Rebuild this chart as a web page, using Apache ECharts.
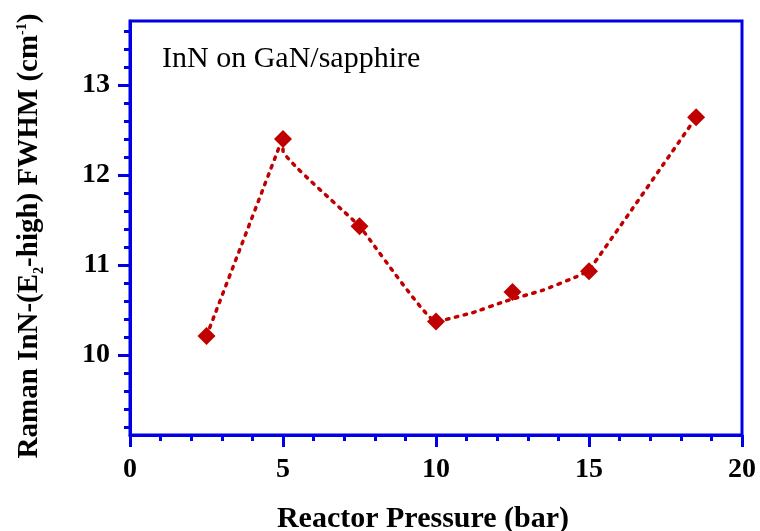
<!DOCTYPE html>
<html>
<head>
<meta charset="utf-8">
<script src="https://cdn.jsdelivr.net/npm/echarts@6/dist/echarts.min.js"></script>
<style>
  html, body { margin: 0; padding: 0; background: #fff; }
  #main { width: 760px; height: 531px; }
</style>
</head>
<body>
<div id="main"></div>
<script>
// measured points
var pressure = [2.5, 5, 7.5, 10, 12.5, 15, 18.5];
var fwhm = [10.21, 12.40, 11.43, 10.37, 10.70, 10.93, 12.64];

// dotted guide curve (it does not hit every point)
var curveX = [2.5, 5, 5, 7.5, 10, 11.2, 12.3, 13.5, 14.6, 15, 18.5];
var curveY = [10.21, 12.42, 12.27, 11.43, 10.37, 10.47, 10.60, 10.72, 10.87, 10.94, 12.64];

var yMajor = [10, 11, 12, 13];
var yMinor = [9.2, 9.4, 9.6, 9.8, 10.2, 10.4, 10.6, 10.8, 11.2, 11.4, 11.6, 11.8,
              12.2, 12.4, 12.6, 12.8, 13.2, 13.4, 13.6];

var blue = '#0000e6';
var red = '#c00000';
var serif = '"Liberation Serif", "Times New Roman", serif';

var chartDom = document.getElementById('main');
var myChart = echarts.init(chartDom);
var option;

option = {
  animation: false,
  title: {
    text: 'InN on GaN/sapphire',
    left: 157,
    top: 39,
    textStyle: { fontFamily: serif, fontWeight: 'normal', fontSize: 30, color: '#000' }
  },
  grid: {
    left: 130, right: 18, top: 21, bottom: 96,
    outerBoundsMode: 'none',
    containLabel: false,
    show: true, borderColor: blue, borderWidth: 3
  },
  xAxis: {
    type: 'value', min: 0, max: 20, interval: 5,
    name: 'Reactor Pressure (bar)',
    nameLocation: 'middle', nameGap: 69,
    nameTextStyle: { fontFamily: serif, fontWeight: 'bold', fontSize: 30, color: '#000', padding: [0, 26, 0, 0] },
    axisLine: { show: true, lineStyle: { color: blue, width: 3 } },
    axisTick: { show: true, length: 12, lineStyle: { color: blue, width: 3 } },
    minorTick: { show: true, splitNumber: 5, length: 6, lineStyle: { color: blue, width: 3 } },
    axisLabel: { fontFamily: serif, fontWeight: 'bold', fontSize: 28, color: '#000', margin: 21 },
    splitLine: { show: false }
  },
  yAxis: [
    {
      type: 'value', min: 9.11, max: 13.71, position: 'left',
      name: 'Raman InN-(E{sub|2}-high) FWHM (cm{sup|-1})',
      nameLocation: 'middle', nameGap: 86,
      nameTextStyle: {
        fontFamily: serif, fontWeight: 'bold', fontSize: 29, color: '#000',
        padding: [0, 16, 0, 0],
        rich: {
          sub: { fontFamily: serif, fontWeight: 'bold', fontSize: 14, verticalAlign: 'bottom', lineHeight: 14, padding: [0, 0, -2, 0] },
          sup: { fontFamily: serif, fontWeight: 'bold', fontSize: 14, verticalAlign: 'top', lineHeight: 14 }
        }
      },
      axisLine: { show: true, lineStyle: { color: blue, width: 3 } },
      axisTick: { show: true, length: 12, customValues: yMajor, lineStyle: { color: blue, width: 3 } },
      axisLabel: { customValues: yMajor, fontFamily: serif, fontWeight: 'bold', fontSize: 28, color: '#000', margin: 20 },
      splitLine: { show: false }
    },
    {
      type: 'value', min: 9.11, max: 13.71, position: 'left',
      axisLine: { show: false },
      axisTick: { show: true, length: 6, customValues: yMinor, lineStyle: { color: blue, width: 3 } },
      axisLabel: { show: false },
      splitLine: { show: false }
    }
  ],
  series: [
    {
      type: 'line',
      data: curveX.map(function (x, i) { return [x, curveY[i]]; }),
      smooth: 0.1,
      showSymbol: false,
      symbol: 'none',
      lineStyle: { color: red, width: 3.5, type: [2.5, 6.5], cap: 'round' },
      z: 2
    },
    {
      type: 'scatter',
      data: pressure.map(function (x, i) { return [x, fwhm[i]]; }),
      symbol: 'diamond',
      symbolSize: 18,
      itemStyle: { color: red, opacity: 1 },
      z: 3
    }
  ]
};
option && myChart.setOption(option);
</script>
</body>
</html>
